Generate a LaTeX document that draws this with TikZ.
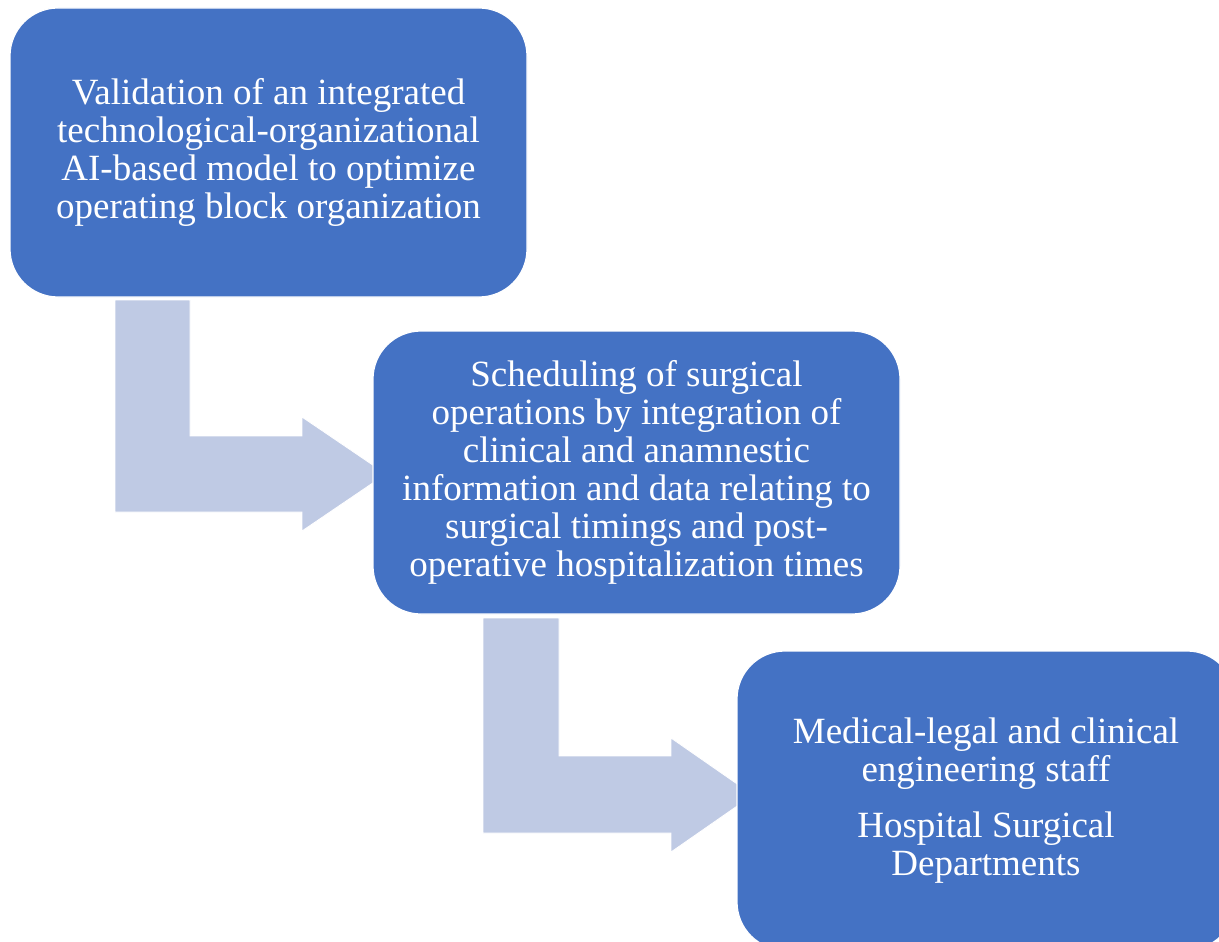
\documentclass[tikz,border=0pt]{standalone}
\usepackage{fontspec}
\setmainfont{Liberation Serif}
\definecolor{boxblue}{RGB}{68,114,196}
\definecolor{arrowblue}{RGB}{191,202,228}
\begin{document}
\begin{tikzpicture}[x=0.5pt,y=-0.5pt,
  stagebox/.style={fill=boxblue, draw=white, line width=0.6pt, rounded corners=24pt,
    inner sep=0pt, align=center, text=white,
    font=\fontsize{18.5pt}{19pt}\selectfont},
  bentarrow/.style={fill=arrowblue, draw=white, line width=0.4pt}]
\useasboundingbox (0,0) rectangle (1219,941);
\clip (0,0) rectangle (1219,941);
% bent arrows (behind boxes)
\draw[bentarrow] (115,300) -- (190,300) -- (190,436) -- (302,436) -- (302,417)
  -- (386,474) -- (302,531) -- (302,512) -- (115,512) -- cycle;
\draw[bentarrow] (483,618) -- (559,618) -- (559,756) -- (671,756) -- (671,738)
  -- (753,795) -- (671,852) -- (671,833) -- (483,833) -- cycle;
% boxes
\node[stagebox, minimum width=258.5pt, minimum height=144.5pt] (b1) at (268.5,152.5)
  {Validation of an integrated\\technological-organizational\\AI-based model to optimize\\operating block organization};
\node[stagebox, minimum width=263.5pt, minimum height=141.5pt] (b2) at (636.5,472.5)
  {Scheduling of surgical\\operations by integration of\\clinical and anamnestic\\information and data relating to\\surgical timings and post-\\operative hospitalization times};
\node[stagebox, minimum width=249pt, minimum height=149.5pt] (b3) at (986,800.5)
  {Medical-legal and clinical\\engineering staff\\[9pt]Hospital Surgical\\Departments};
\end{tikzpicture}
\end{document}
